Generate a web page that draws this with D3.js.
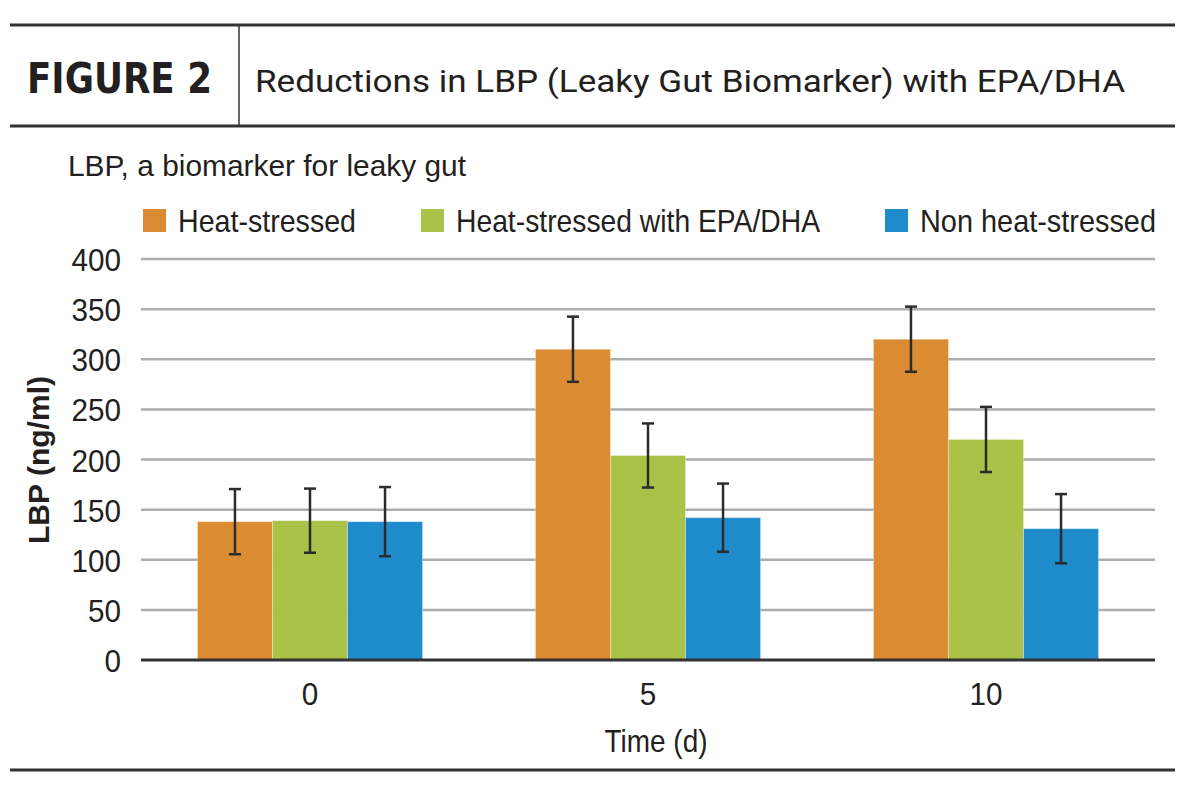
<!DOCTYPE html>
<html>
<head>
<meta charset="utf-8">
<script src="https://cdn.jsdelivr.net/npm/d3@7"></script>
<style>
  body { margin: 0; background: #fff; }
  svg text { fill: #231f20; }
</style>
</head>
<body>
<svg id="chart" width="1200" height="794"></svg>
<script>
/* chart data */
var days = ["0", "5", "10"],
    seriesNames = ["Heat-stressed", "Heat-stressed with EPA/DHA", "Non heat-stressed"],
    seriesColors = ["#db8b31", "#a9c247", "#1e8bcb"],
    heatStressed = [138, 310, 320],
    heatStressedEpa = [139, 204, 220],
    nonHeatStressed = [138, 142, 131],
    errHeat = [32.5, 32.5, 32.5],
    errEpa = [32, 32, 32.5],
    errNon = [34.5, 34, 34.5],
    yTicks = [0, 50, 100, 150, 200, 250, 300, 350, 400];

var values = [heatStressed, heatStressedEpa, nonHeatStressed],
    errors = [errHeat, errEpa, errNon];

var svg = d3.select("#chart"),
    narrow = "'Liberation Sans', Arial, sans-serif",
    plot = { left: 141, right: 1155, top: 259, bottom: 660 },
    legendX = [143, 421, 885],
    legendW = [178, 364, 236];

/* squeeze a text to a width, since no narrow face is around */
var squeeze = function( sel, w ) {
    sel.attr("textLength", w).attr("lengthAdjust", "spacingAndGlyphs");
};

/* header rules */
svg.append("line").attr("x1", 10).attr("x2", 1175).attr("y1", 25).attr("y2", 25)
   .attr("stroke", "#333").attr("stroke-width", 3);
svg.append("line").attr("x1", 10).attr("x2", 1175).attr("y1", 126).attr("y2", 126)
   .attr("stroke", "#333").attr("stroke-width", 3);
svg.append("line").attr("x1", 239).attr("x2", 239).attr("y1", 25).attr("y2", 126)
   .attr("stroke", "#333").attr("stroke-width", 1.5);
svg.append("line").attr("x1", 10).attr("x2", 1175).attr("y1", 770).attr("y2", 770)
   .attr("stroke", "#333").attr("stroke-width", 3);

svg.append("text").attr("x", 27).attr("y", 93)
   .call(squeeze, 185)
   .style("font-family", "'DejaVu Sans', sans-serif")
   .style("font-weight", "bold").style("font-size", "42px")
   .text("FIGURE 2");

svg.append("text").attr("x", 255).attr("y", 92)
   .call(squeeze, 870)
   .style("font-family", "Roboto, sans-serif").style("font-size", "32px")
   .text("Reductions in LBP (Leaky Gut Biomarker) with EPA/DHA");

svg.append("text").attr("x", 68).attr("y", 176)
   .call(squeeze, 398)
   .style("font-family", narrow).style("font-size", "29px")
   .text("LBP, a biomarker for leaky gut");

/* legend */
var legend = svg.append("g").selectAll("g").data(seriesNames).enter().append("g")
      .attr("transform", function(d, i){ return "translate(" + legendX[i] + ",209)"; });

legend.append("rect").attr("width", 23).attr("height", 23)
      .attr("fill", function(d, i){ return seriesColors[i]; });
legend.append("text").attr("x", 35).attr("y", 23)
      .attr("textLength", function(d, i){ return legendW[i]; })
      .attr("lengthAdjust", "spacingAndGlyphs")
      .style("font-family", narrow).style("font-size", "32px")
      .text(function(d){ return d; });

/* scales */
var x = d3.scaleBand().domain(days).range([plot.left, plot.right]).paddingInner(0.334).paddingOuter(0.167),
    xs = d3.scaleBand().domain(d3.range(seriesNames.length)).range([0, x.bandwidth()]),
    y = d3.scaleLinear().domain([0, 400]).range([plot.bottom, plot.top]);

/* grid lines */
svg.append("g").selectAll("line").data(yTicks.slice(1)).enter().append("line")
   .attr("x1", plot.left).attr("x2", plot.right)
   .attr("y1", function(d){ return y(d); }).attr("y2", function(d){ return y(d); })
   .attr("stroke", "#adadad").attr("stroke-width", 2.5);

/* y axis labels */
var yAxis = svg.append("g").attr("transform", "translate(" + plot.left + ",0)")
   .call(d3.axisLeft(y).tickValues(yTicks).tickSize(0).tickPadding(20));
yAxis.select(".domain").remove();
yAxis.selectAll("text").style("font-family", narrow).style("font-size", "32px")
     .attr("fill", "#231f20").attr("dy", "0.36em")
     .attr("textLength", function(d){ return String(d).length * 16.5; })
     .attr("lengthAdjust", "spacingAndGlyphs");

/* bars */
var groups = svg.append("g").selectAll("g").data(days).enter().append("g")
   .attr("transform", function(d){ return "translate(" + x(d) + ",0)"; });

groups.each(function(day, di){
    var g = d3.select(this);
    values.forEach(function(series, si){
        var v = series[di], e = errors[si][di], cx = xs(si) + xs.bandwidth() / 2;
        g.append("rect")
         .attr("x", xs(si)).attr("width", xs.bandwidth())
         .attr("y", y(v)).attr("height", y(0) - y(v))
         .attr("fill", seriesColors[si])
         .attr("stroke", "rgba(255,255,255,0.35)").attr("stroke-width", 1);
        g.append("line").attr("x1", cx).attr("x2", cx)
         .attr("y1", y(v + e)).attr("y2", y(v - e))
         .attr("stroke", "#2b2b2b").attr("stroke-width", 2.5);
        [v + e, v - e].forEach(function(t){
            g.append("line").attr("x1", cx - 6).attr("x2", cx + 6)
             .attr("y1", y(t)).attr("y2", y(t))
             .attr("stroke", "#2b2b2b").attr("stroke-width", 2.5);
        });
    });
});

/* x axis */
var xAxis = svg.append("g").attr("transform", "translate(0," + plot.bottom + ")")
   .call(d3.axisBottom(x).tickSize(0).tickPadding(22));
xAxis.select(".domain").attr("stroke", "#333").attr("stroke-width", 3)
     .attr("d", "M" + plot.left + ",0H" + plot.right);
xAxis.selectAll("text").style("font-family", narrow).style("font-size", "32px").attr("fill", "#231f20")
     .attr("textLength", function(d){ return d.length * 16.5; })
     .attr("lengthAdjust", "spacingAndGlyphs");

svg.append("text").attr("x", 656).attr("y", 752).attr("text-anchor", "middle")
   .call(squeeze, 103)
   .style("font-family", narrow).style("font-size", "32px")
   .text("Time (d)");

svg.append("text").attr("transform", "translate(49,460) rotate(-90)")
   .attr("text-anchor", "middle")
   .call(squeeze, 168)
   .style("font-family", narrow).style("font-weight", "bold").style("font-size", "30px")
   .text("LBP (ng/ml)");
</script>
</body>
</html>
